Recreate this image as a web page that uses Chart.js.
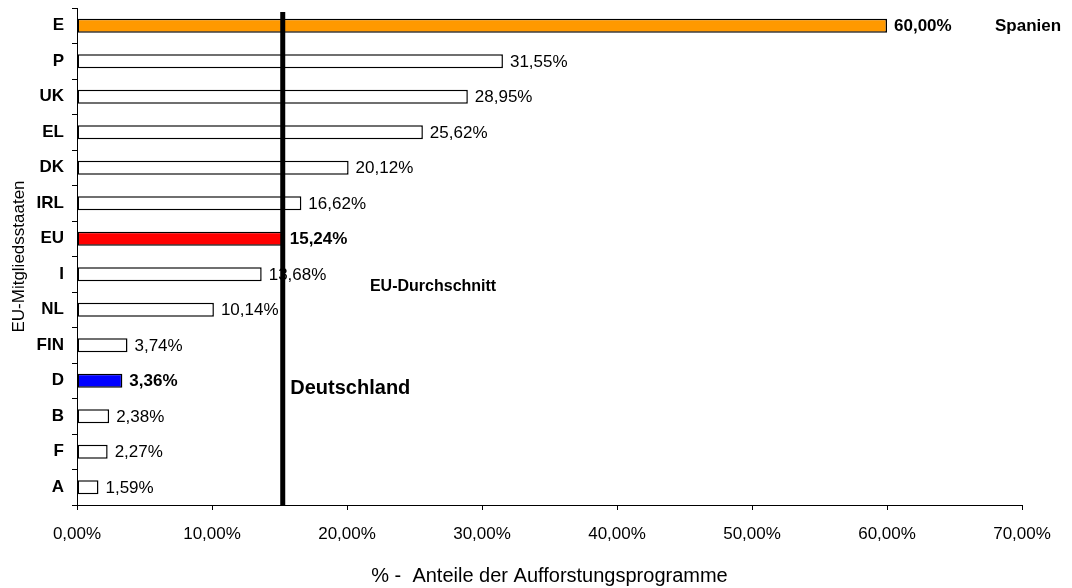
<!DOCTYPE html>
<html>
<head>
<meta charset="utf-8">
<script src="https://cdn.jsdelivr.net/npm/chart.js@4"></script>
<style>
  html, body { margin: 0; padding: 0; background: #fff; }
  #wrap { width: 1072px; height: 588px; }
</style>
</head>
<body>
<div id="wrap"><canvas id="aufChart"></canvas></div>
<script>
const categories = ['E', 'P', 'UK', 'EL', 'DK', 'IRL', 'EU', 'I', 'NL', 'FIN', 'D', 'B', 'F', 'A'];
const shares = [60.00, 31.55, 28.95, 25.62, 20.12, 16.62, 15.24, 13.68, 10.14, 3.74, 3.36, 2.38, 2.27, 1.59];
const xTicks = [0, 10, 20, 30, 40, 50, 60, 70];
const euAverage = 15.24;

const FONT = 'Arial, "Liberation Sans", sans-serif';
const special = { E: '#FF9900', EU: '#FF0000', D: '#0000FF' };

// free text notes, placed in data units (x = percent, y = category index)
const notes = [
  { text: 'Spanien', x: 68.0, y: 0, size: 17 },
  { text: 'EU-Durchschnitt', x: 21.7, y: 7.33, size: 16 },
  { text: 'Deutschland', x: 15.8, y: 10.2, size: 20 }
];

const fmt = v => v.toFixed(2).replace('.', ',') + '%';

const extras = {
  id: 'extras',
  afterDatasetsDraw(chart) {
    const ctx = chart.ctx;
    const meta = chart.getDatasetMeta(0);
    const xs = chart.scales.x, ys = chart.scales.y;
    ctx.save();
    ctx.fillStyle = '#000';
    ctx.textBaseline = 'middle';
    ctx.textAlign = 'left';
    meta.data.forEach((bar, i) => {
      const bold = special[categories[i]] ? 'bold ' : '';
      ctx.font = bold + '17px ' + FONT;
      ctx.fillText(fmt(shares[i]), bar.x + 7, bar.y + 1);
    });

    // EU average line
    const lx = xs.getPixelForValue(euAverage);
    ctx.strokeStyle = '#000';
    ctx.lineWidth = 5;
    ctx.beginPath();
    ctx.moveTo(lx, chart.chartArea.top + 4);
    ctx.lineTo(lx, chart.chartArea.bottom);
    ctx.stroke();

    notes.forEach(n => {
      ctx.font = 'bold ' + n.size + 'px ' + FONT;
      ctx.fillText(n.text, xs.getPixelForValue(n.x), ys.getPixelForValue(n.y) + 1);
    });
    ctx.restore();
  }
};

new Chart(document.getElementById('aufChart').getContext('2d'), {
  type: 'bar',
  data: {
    labels: categories,
    datasets: [{
      data: shares,
      backgroundColor: categories.map(c => special[c] || '#FFFFFF'),
      borderColor: '#000',
      borderWidth: 1.5,
      borderSkipped: false,
      barPercentage: 0.4,
      categoryPercentage: 1
    }]
  },
  options: {
    indexAxis: 'y',
    responsive: true,
    maintainAspectRatio: false,
    animation: false,
    layout: { padding: { top: 8, right: 50, left: 0, bottom: 0 } },
    plugins: {
      legend: { display: false },
      tooltip: { enabled: false }
    },
    scales: {
      x: {
        min: 0,
        max: 70,
        afterBuildTicks: s => { s.ticks = xTicks.map(v => ({ value: v })); },
        afterFit: s => { s.height = 83; },
        grid: { display: true, drawOnChartArea: false, color: '#000', tickLength: 5 },
        border: { color: '#000', width: 1 },
        ticks: {
          color: '#000',
          padding: 14,
          maxRotation: 0,
          font: { family: FONT, size: 17 },
          callback: v => fmt(v)
        },
        title: {
          display: true,
          text: '% -  Anteile der Aufforstungsprogramme',
          color: '#000',
          font: { family: FONT, size: 20 },
          padding: { top: 0, bottom: 0 }
        }
      },
      y: {
        afterFit: s => { s.width = 77; s.paddingTop = 0; s.paddingBottom = 0; },
        grid: { display: true, drawOnChartArea: false, color: '#000', tickLength: 5 },
        border: { color: '#000', width: 1 },
        ticks: {
          color: '#000',
          padding: 8,
          font: { family: FONT, size: 17, weight: 'bold' }
        },
        title: {
          display: true,
          text: 'EU-Mitgliedsstaaten',
          color: '#000',
          font: { family: FONT, size: 17 },
          padding: { top: 9, bottom: 0 }
        }
      }
    }
  },
  plugins: [extras]
});
</script>
</body>
</html>
